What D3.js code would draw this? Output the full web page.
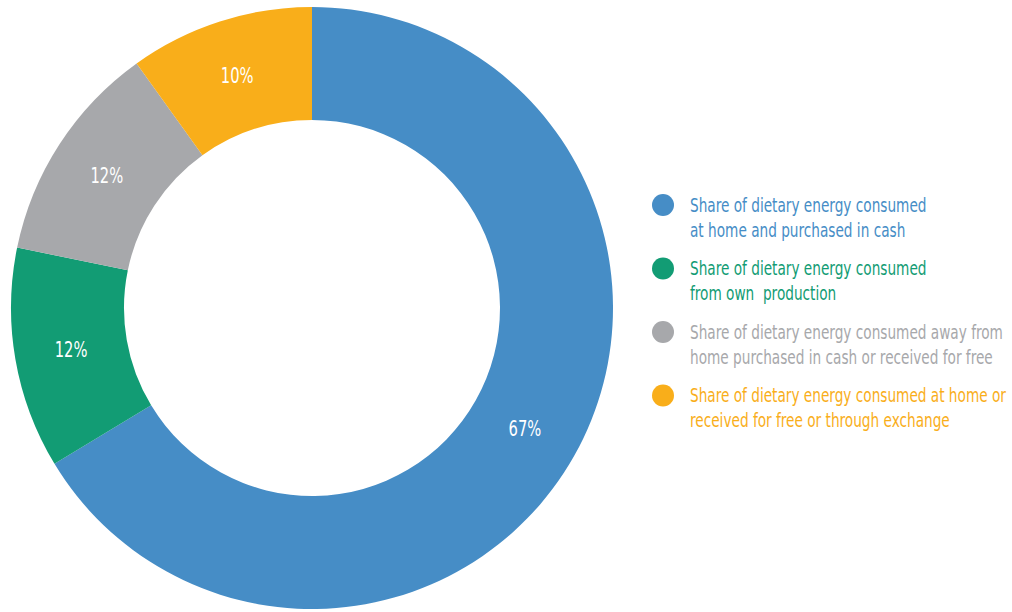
<!DOCTYPE html>
<html>
<head>
<meta charset="utf-8">
<script src="https://cdn.jsdelivr.net/npm/d3@7"></script>
<style>
  html, body { margin: 0; padding: 0; background: #fff; }
  svg text { font-family: "DejaVu Sans Condensed", "DejaVu Sans", sans-serif; font-stretch: condensed; }
</style>
</head>
<body>
<svg id="chart" width="1012" height="612"></svg>
<script>
// Shares of dietary energy by source (percent)
const categories = [
  "Share of dietary energy consumed at home and purchased in cash",
  "Share of dietary energy consumed from own  production",
  "Share of dietary energy consumed away from home purchased in cash or received for free",
  "Share of dietary energy consumed at home or received for free or through exchange"
];
const values = [67, 12, 12, 10];
const legendLines = [
  ["Share of dietary energy consumed", "at home and purchased in cash"],
  ["Share of dietary energy consumed", "from own  production"],
  ["Share of dietary energy consumed away from", "home purchased in cash or received for free"],
  ["Share of dietary energy consumed at home or", "received for free or through exchange"]
];
const colors = ["#468dc6", "#129c74", "#a7a8ab", "#f9ae1a"];

const svg = d3.select("#chart");
const cx = 312, cy = 308;
const outerR = 301, innerR = 188;

const data = categories.map((c, i) => ({ name: c, value: values[i], color: colors[i] }));

const pie = d3.pie().value(d => d.value).sort(null);
const arc = d3.arc().innerRadius(innerR).outerRadius(outerR);

const g = svg.append("g").attr("transform", `translate(${cx},${cy})`);
const arcs = pie(data);

g.selectAll("path.slice")
  .data(arcs)
  .join("path")
  .attr("class", "slice")
  .attr("d", arc)
  .attr("fill", d => d.data.color);

// Percent labels at slice centroids, horizontally condensed
g.selectAll("g.pct")
  .data(arcs)
  .join("g")
  .attr("class", "pct")
  .attr("transform", d => `translate(${arc.centroid(d)}) scale(0.78,1)`)
  .append("text")
  .attr("text-anchor", "middle")
  .attr("dy", "0.36em")
  .attr("fill", "#fff")
  .attr("font-size", 21)
  .text(d => d.data.value + "%");

// Legend
const legend = svg.append("g").attr("transform", "translate(663,205)");
const rowH = 63.5;
const rows = legend.selectAll("g.row")
  .data(data)
  .join("g")
  .attr("class", "row")
  .attr("transform", (d, i) => `translate(0,${i * rowH})`);

rows.append("circle")
  .attr("r", 11)
  .attr("fill", d => d.color);

rows.append("g")
  .attr("transform", "translate(27,0) scale(0.8,1)")
  .append("text")
  .attr("fill", d => d.color)
  .attr("font-size", 19)
  .selectAll("tspan")
  .data((d, i) => legendLines[i])
  .join("tspan")
  .attr("x", 0)
  .attr("dy", (t, j) => j === 0 ? "0.36em" : "1.3em")
  .attr("xml:space", "preserve")
  .style("white-space", "pre")
  .text(t => t);
</script>
</body>
</html>
